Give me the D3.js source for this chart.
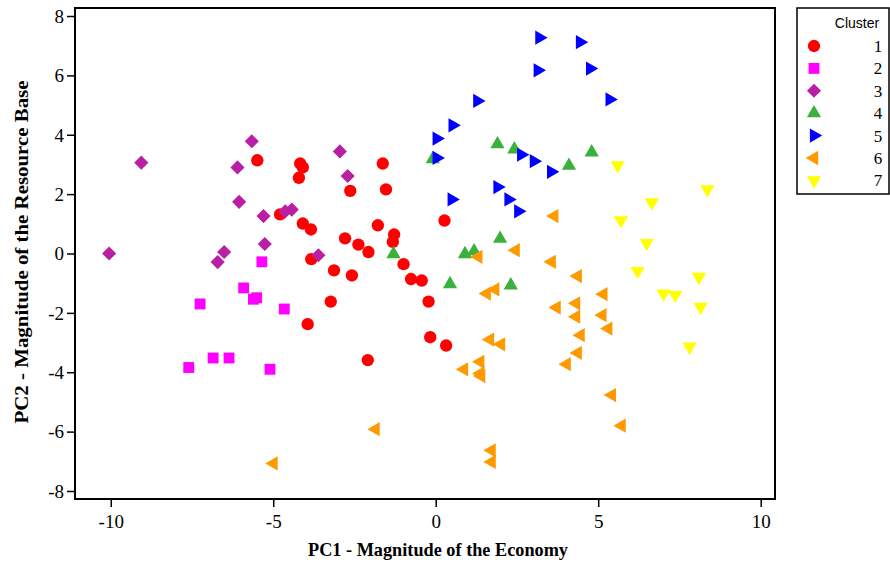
<!DOCTYPE html>
<html>
<head>
<meta charset="utf-8">
<script src="https://cdn.jsdelivr.net/npm/d3@7"></script>
<style>
  body { margin: 0; background: #fff; }
  svg { display: block; }
</style>
</head>
<body>
<svg id="chart" width="890" height="569"></svg>
<script>
// cluster values [PC1, PC2]
const cluster1 = [[-5.49,3.14],[-4.17,3.03],[-4.09,2.90],[-4.21,2.55],[-2.63,2.11],[-1.63,3.03],[-1.53,2.16],
  [-4.79,1.32],[-4.09,1.01],[-3.84,0.81],[-1.78,0.95],[-2.79,0.51],[-2.38,0.30],[-2.07,0.05],[-1.28,0.64],
  [-1.32,0.39],[0.27,1.11],[-3.83,-0.19],[-3.13,-0.57],[-2.58,-0.74],[-0.99,-0.36],[-0.76,-0.86],[-0.43,-0.91],
  [-0.22,-1.62],[-3.23,-1.62],[-3.94,-2.38],[-0.17,-2.82],[0.32,-3.10],[-2.09,-3.59]];
const cluster2 = [[-5.35,-0.28],[-5.91,-1.16],[-5.61,-1.54],[-5.51,-1.49],[-7.25,-1.70],[-4.66,-1.87],
  [-6.85,-3.52],[-6.36,-3.52],[-7.60,-3.84],[-5.10,-3.90]];
const cluster3 = [[-10.05,0.0],[-9.06,3.06],[-5.66,3.78],[-6.10,2.90],[-6.05,1.74],[-5.30,1.26],[-4.63,1.42],
  [-4.43,1.48],[-5.26,0.32],[-6.51,0.05],[-6.71,-0.29],[-3.61,-0.06],[-2.95,3.44],[-2.71,2.61]];
const cluster4 = [[1.90,3.68],[2.42,3.51],[-0.09,3.18],[4.80,3.41],[4.10,2.96],[1.98,0.50],[-1.30,-0.02],
  [0.90,-0.02],[1.18,0.08],[0.44,-1.03],[2.31,-1.07]];
const cluster5 = [[3.19,7.27],[4.44,7.12],[3.14,6.17],[4.75,6.23],[5.35,5.19],[1.28,5.14],[0.52,4.32],
  [0.03,3.87],[0.03,3.22],[2.63,3.33],[3.02,3.11],[3.55,2.75],[1.90,2.24],[2.24,1.82],[2.54,1.42],[0.49,1.82]];
const cluster6 = [[3.65,1.26],[2.46,0.11],[1.31,-0.11],[3.57,-0.28],[4.37,-0.76],[1.57,-1.35],[1.83,-1.21],
  [5.16,-1.37],[3.72,-1.82],[4.32,-1.68],[4.32,-2.13],[5.13,-2.08],[5.31,-2.53],[4.46,-2.75],[4.37,-3.35],
  [4.03,-3.73],[1.67,-2.90],[2.01,-3.06],[0.87,-3.90],[1.37,-3.65],[1.37,-4.04],[1.40,-4.13],[5.42,-4.77],
  [5.72,-5.80],[-1.85,-5.92],[1.72,-6.63],[1.72,-7.02],[-4.99,-7.07]];
const cluster7 = [[5.60,2.97],[8.36,2.16],[6.65,1.72],[5.70,1.12],[6.49,0.35],[6.21,-0.59],[8.10,-0.79],
  [7.01,-1.35],[7.37,-1.40],[8.15,-1.80],[7.81,-3.14]];

const clusterNames = ['1', '2', '3', '4', '5', '6', '7'];
const xTicks = [-10, -5, 0, 5, 10];
const yTicks = [-8, -6, -4, -2, 0, 2, 4, 6, 8];

const allClusters = [cluster1, cluster2, cluster3, cluster4, cluster5, cluster6, cluster7];
const colors = ['#ff0000', '#ff00ff', '#b81fa3', '#3cb03c', '#0000ff', '#ff9900', '#ffff00'];

// symbol per cluster: [d3 symbol type, size, rotation]
const shapes = [
  [d3.symbolCircle, 120, 0],
  [d3.symbolSquare, 118, 0],
  [d3.symbolSquare, 100, 45],
  [d3.symbolTriangle, 88, 0],
  [d3.symbolTriangle, 88, 90],
  [d3.symbolTriangle, 88, -90],
  [d3.symbolTriangle, 88, 180]
];

const serif = '"Liberation Serif", "Times New Roman", serif';
const svg = d3.select('#chart');
const plotL = 75, plotR = 775, plotT = 8, plotB = 499;

const x = d3.scaleLinear().domain([-11.1, 10.44]).range([plotL, plotR]);
const y = d3.scaleLinear().domain([-8.27, 8.27]).range([plotB, plotT]);
const fmt = d => String(d); // plain hyphen minus like the original

// axes
const gx = svg.append('g')
  .attr('transform', `translate(0,${plotB})`)
  .call(d3.axisBottom(x).tickValues(xTicks).tickFormat(fmt).tickSize(8).tickPadding(8));
gx.select('.domain').remove();

const gy = svg.append('g')
  .attr('transform', `translate(${plotL},0)`)
  .call(d3.axisLeft(y).tickValues(yTicks).tickFormat(fmt).tickSize(8).tickPadding(3));
gy.select('.domain').remove();

[gx, gy].forEach(g => {
  g.attr('font-family', null).attr('font-size', null);
  g.selectAll('.tick line').attr('stroke', '#000').attr('stroke-width', 1.5);
  g.selectAll('.tick text')
    .attr('fill', '#000')
    .style('font-family', serif)
    .style('font-size', '19px');
});
gy.selectAll('.tick text').attr('dy', '0.33em');

// frame
svg.append('rect')
  .attr('x', plotL).attr('y', plotT)
  .attr('width', plotR - plotL).attr('height', plotB - plotT)
  .attr('fill', 'none').attr('stroke', '#000').attr('stroke-width', 2);

// points
allClusters.forEach((data, i) => {
  const sym = d3.symbol().type(shapes[i][0]).size(shapes[i][1]);
  svg.append('g').selectAll('path')
    .data(data)
    .enter()
    .append('path')
    .attr('d', sym)
    .attr('transform', d => `translate(${x(d[0])},${y(d[1])}) rotate(${shapes[i][2]})`)
    .attr('fill', colors[i]);
});

// axis titles
svg.append('text')
  .attr('x', 438).attr('y', 556)
  .attr('text-anchor', 'middle')
  .attr('font-family', serif)
  .attr('font-weight', 'bold').attr('font-size', 19)
  .attr('textLength', 260).attr('lengthAdjust', 'spacingAndGlyphs')
  .text('PC1 - Magnitude of the Economy');

svg.append('text')
  .attr('transform', 'translate(28,252) rotate(-90)')
  .attr('text-anchor', 'middle')
  .attr('font-family', serif)
  .attr('font-weight', 'bold').attr('font-size', 19)
  .attr('textLength', 343).attr('lengthAdjust', 'spacingAndGlyphs')
  .text('PC2 - Magnitude of the Resource Base');

// legend
const legend = svg.append('g');
legend.append('rect')
  .attr('x', 797).attr('y', 8).attr('width', 92).attr('height', 186)
  .attr('fill', '#fff').attr('stroke', '#000').attr('stroke-width', 1.5);
legend.append('text')
  .attr('x', 857).attr('y', 28)
  .attr('text-anchor', 'middle')
  .attr('font-family', '"Liberation Sans", Arial, sans-serif')
  .attr('font-size', 14)
  .text('Cluster');

clusterNames.forEach((name, i) => {
  const ly = 46 + i * 22.4;
  const sym = d3.symbol().type(shapes[i][0]).size(shapes[i][1]);
  legend.append('path')
    .attr('d', sym)
    .attr('transform', `translate(814,${ly}) rotate(${shapes[i][2]})`)
    .attr('fill', colors[i]);
  legend.append('text')
    .attr('x', 878).attr('y', ly).attr('dy', '0.35em')
    .attr('text-anchor', 'middle')
    .attr('font-family', serif)
    .attr('font-size', 17)
    .text(name);
});
</script>
</body>
</html>
